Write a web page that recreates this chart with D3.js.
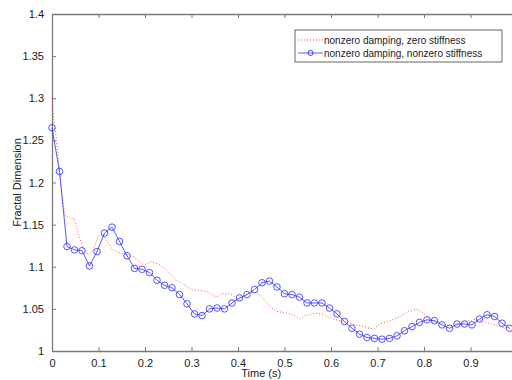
<!DOCTYPE html>
<html>
<head>
<meta charset="utf-8">
<script src="https://cdn.jsdelivr.net/npm/d3@7"></script>
<style>
  body { margin: 0; background: #fff; }
  text { font-family: "Liberation Sans", Arial, sans-serif; fill: #222; }
</style>
</head>
<body>
<div id="chart"></div>
<script>
// sampled at 62 Hz, nonzero damping + nonzero stiffness
const sampleRate = 62;
const stiffValues = [
  1.265, 1.213, 1.124, 1.120, 1.119, 1.101, 1.118, 1.140, 1.147, 1.130,
  1.113, 1.098, 1.097, 1.093, 1.084, 1.078, 1.075, 1.067, 1.056, 1.044,
  1.042, 1.050, 1.051, 1.050, 1.057, 1.063, 1.067, 1.073, 1.081, 1.083,
  1.076, 1.068, 1.067, 1.064, 1.057, 1.057, 1.057, 1.051, 1.044, 1.035,
  1.027, 1.020, 1.016, 1.015, 1.014, 1.015, 1.018, 1.024, 1.029, 1.034,
  1.037, 1.036, 1.031, 1.027, 1.032, 1.032, 1.031, 1.038, 1.043, 1.041,
  1.033, 1.027
];

// nonzero damping, zero stiffness (dotted)
const freeTimes = [
  0, 0.003, 0.010, 0.017, 0.022, 0.028, 0.039, 0.048, 0.056, 0.067,
  0.078, 0.089, 0.099, 0.109, 0.117, 0.128, 0.142, 0.157, 0.175, 0.197,
  0.215, 0.233, 0.250, 0.268, 0.286, 0.304, 0.319, 0.336, 0.354, 0.366,
  0.383, 0.394, 0.404, 0.419, 0.433, 0.447, 0.458, 0.473, 0.483, 0.505,
  0.519, 0.532, 0.544, 0.566, 0.583, 0.605, 0.626, 0.648, 0.669, 0.691,
  0.705, 0.727, 0.748, 0.766, 0.784, 0.798, 0.812, 0.834, 0.855, 0.873,
  0.891, 0.913, 0.934, 0.956, 0.977, 0.986
];
const freeValues = [
  1.300, 1.278, 1.250, 1.207, 1.183, 1.161, 1.158, 1.157, 1.140, 1.122,
  1.114, 1.120, 1.136, 1.139, 1.132, 1.122, 1.117, 1.115, 1.112, 1.102,
  1.106, 1.102, 1.094, 1.084, 1.078, 1.072, 1.072, 1.070, 1.064, 1.068,
  1.068, 1.064, 1.061, 1.068, 1.070, 1.066, 1.060, 1.051, 1.047, 1.045,
  1.043, 1.038, 1.042, 1.045, 1.043, 1.038, 1.035, 1.032, 1.029, 1.026,
  1.032, 1.036, 1.041, 1.047, 1.050, 1.045, 1.037, 1.033, 1.030, 1.031,
  1.035, 1.038, 1.034, 1.030, 1.027, 1.026
];

const xTicks = [0, 0.1, 0.2, 0.3, 0.4, 0.5, 0.6, 0.7, 0.8, 0.9];
const yTicks = [1, 1.05, 1.1, 1.15, 1.2, 1.25, 1.3, 1.35, 1.4];
const seriesNames = ['nonzero damping, zero stiffness', 'nonzero damping, nonzero stiffness'];

const width = 512;
const height = 380;
const margin = { top: 14, right: -5, bottom: 29, left: 52 };

const svg = d3.select('#chart')
  .append('svg')
  .attr('width', width)
  .attr('height', height);

const x = d3.scaleLinear().domain([0, 1]).range([margin.left, width - margin.right]);
const y = d3.scaleLinear().domain([1, 1.4]).range([height - margin.bottom, margin.top]);

const axisColor = '#7a7a7a';
const tickLen = 4;

// bottom axis
const xAxis = svg.append('g')
  .attr('transform', `translate(0,${y(1)})`)
  .call(d3.axisBottom(x).tickValues(xTicks).tickSizeInner(-tickLen).tickSizeOuter(0).tickPadding(8)
    .tickFormat(d => d3.format('')(+d.toFixed(1))));
// top axis
const xAxisTop = svg.append('g')
  .attr('transform', `translate(0,${y(1.4)})`)
  .call(d3.axisTop(x).tickValues(xTicks).tickSizeInner(-tickLen).tickSizeOuter(0).tickFormat(''));
// left axis
const yAxis = svg.append('g')
  .attr('transform', `translate(${x(0)},0)`)
  .call(d3.axisLeft(y).tickValues(yTicks).tickSizeInner(-tickLen).tickSizeOuter(0).tickPadding(8)
    .tickFormat(d => d3.format('')(+d.toFixed(2))));
// right axis (mostly outside the view)
const yAxisRight = svg.append('g')
  .attr('transform', `translate(${x(1)},0)`)
  .call(d3.axisRight(y).tickValues(yTicks).tickSizeInner(-tickLen).tickSizeOuter(0).tickFormat(''));

[xAxis, xAxisTop, yAxis, yAxisRight].forEach(g => {
  g.select('.domain').attr('stroke', axisColor).attr('stroke-width', 1.3);
  g.selectAll('.tick line').attr('stroke', axisColor);
  g.selectAll('.tick text').attr('font-size', 11).attr('fill', '#222')
    .style('font-family', '"Liberation Sans", Arial, sans-serif');
});

// axis titles
svg.append('text')
  .attr('x', x(0.45))
  .attr('y', 377)
  .attr('text-anchor', 'middle')
  .attr('font-size', 11)
  .text('Time (s)');

svg.append('text')
  .attr('transform', `translate(21,${(y(1) + y(1.4)) / 2}) rotate(-90)`)
  .attr('text-anchor', 'middle')
  .attr('font-size', 11)
  .text('Fractal Dimension');

// series
const stiffData = stiffValues.map((v, i) => ({ t: i / sampleRate, v }));
const freeData = freeValues.map((v, i) => ({ t: freeTimes[i], v }));

const line = d3.line().x(d => x(d.t)).y(d => y(d.v));

const red = '#ff3030';
const blue = '#3a3aff';

svg.append('path')
  .datum(freeData)
  .attr('d', line)
  .attr('fill', 'none')
  .attr('stroke', red)
  .attr('stroke-width', 1)
  .attr('stroke-dasharray', '1,2')
  .attr('opacity', 0.8);

svg.append('path')
  .datum(stiffData)
  .attr('d', line)
  .attr('fill', 'none')
  .attr('stroke', blue)
  .attr('stroke-width', 1)
  .attr('opacity', 0.85);

svg.selectAll('circle.mark')
  .data(stiffData)
  .enter()
  .append('circle')
  .attr('class', 'mark')
  .attr('cx', d => x(d.t))
  .attr('cy', d => y(d.v))
  .attr('r', 3.3)
  .attr('fill', 'none')
  .attr('stroke', blue)
  .attr('stroke-width', 1)
  .attr('opacity', 0.85);

// legend
const legend = svg.append('g').attr('transform', 'translate(295,30)');
legend.append('rect')
  .attr('width', 207)
  .attr('height', 32)
  .attr('fill', '#fff')
  .attr('stroke', '#666')
  .attr('stroke-width', 1);

const rows = legend.selectAll('g.row')
  .data(seriesNames)
  .enter()
  .append('g')
  .attr('class', 'row')
  .attr('transform', (d, i) => `translate(0,${10 + i * 13})`);

rows.append('line')
  .attr('x1', 3).attr('x2', 28)
  .attr('stroke', (d, i) => i === 0 ? red : blue)
  .attr('stroke-width', 1)
  .attr('stroke-dasharray', (d, i) => i === 0 ? '1,2' : null)
  .attr('opacity', 0.8);

rows.filter((d, i) => i === 1)
  .append('circle')
  .attr('cx', 15.5)
  .attr('r', 2.5)
  .attr('fill', 'none')
  .attr('stroke', blue);

rows.append('text')
  .attr('x', 29)
  .attr('y', 3.5)
  .attr('font-size', 10)
  .text(d => d);
</script>
</body>
</html>
